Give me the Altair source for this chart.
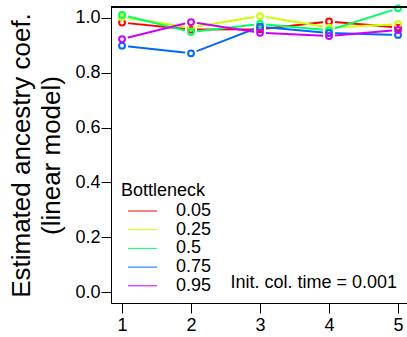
import altair as alt
import pandas as pd

# Sampling points and bottleneck strengths
days = [1, 2, 3, 4, 5]
bottleneck_levels = ["0.05", "0.25", "0.5", "0.75", "0.95"]

# Estimated ancestry coefficient per bottleneck level
coef_005 = [0.983, 0.958, 0.959, 0.987, 0.965]
coef_025 = [1.003, 0.965, 1.007, 0.965, 0.977]
coef_050 = [1.011, 0.949, 0.978, 0.955, 1.035]
coef_075 = [0.899, 0.871, 0.968, 0.945, 0.938]
coef_095 = [0.923, 0.985, 0.946, 0.934, 0.956]

palette = ["#FF0000", "#CCFF00", "#00FF66", "#0066FF", "#CC00FF"]
y_ticks = [0.0, 0.2, 0.4, 0.6, 0.8, 1.0]

rows = []
for level, series in zip(bottleneck_levels,
                         [coef_005, coef_025, coef_050, coef_075, coef_095]):
    for d, v in zip(days, series):
        rows.append({"day": d, "coef": v, "bottleneck": level})
df = pd.DataFrame(rows)

FONT = "Liberation Sans"
W, H = 296, 296

x_enc = alt.X(
    "day:Q",
    scale=alt.Scale(domain=[0.84, 5.13], nice=False, zero=False),
    axis=alt.Axis(values=days, format="d", title=None, grid=False,
                  labelFontSize=18, labelPadding=3, tickSize=10,
                  domainColor="black", tickColor="black", labelColor="black",
                  labelFont=FONT),
)
y_enc = alt.Y(
    "coef:Q",
    scale=alt.Scale(domain=[-0.04, 1.04], nice=False, zero=False),
    axis=alt.Axis(values=y_ticks, format=".1f",
                  title=["Estimated ancestry coef.", "(linear model)"],
                  titleFontSize=26, titleFontWeight="normal", titleFont=FONT,
                  titleColor="black", titleLineHeight=30, titlePadding=10,
                  grid=False, labelFontSize=18, labelPadding=1, tickSize=10,
                  domainColor="black", tickColor="black", labelColor="black",
                  labelFont=FONT),
)

base = alt.Chart(df)

# Legend key: a short horizontal stroke drawn right of the symbol centre
key_path = "M-0.4,0H5.4"

lines = base.mark_line(strokeWidth=2).encode(
    x=x_enc,
    y=y_enc,
    color=alt.Color(
        "bottleneck:N",
        scale=alt.Scale(domain=bottleneck_levels, range=palette),
        legend=alt.Legend(
            title="Bottleneck", orient="none", legendX=10, legendY=175,
            symbolType=key_path, symbolSize=100, symbolStrokeWidth=1,
            titleFontSize=18, titleFontWeight="normal", titleFont=FONT,
            titleColor="black", labelFontSize=18, labelFont=FONT,
            labelColor="black", labelOffset=37, rowPadding=0.7,
            titlePadding=2,
        ),
    ),
    detail="bottleneck:N",
)

# White discs open a gap in the lines around each point
gaps = base.mark_point(filled=True, shape="circle", size=150,
                       color="white", opacity=1).encode(x="day:Q", y="coef:Q")

points = base.mark_point(filled=False, shape="circle", size=34,
                         strokeWidth=2, opacity=1).encode(
    x="day:Q",
    y="coef:Q",
    stroke=alt.Stroke("bottleneck:N",
                      scale=alt.Scale(domain=bottleneck_levels, range=palette),
                      legend=None),
)

top_frame = alt.Chart(df).mark_rule(color="black", strokeWidth=1).encode(
    x=alt.value(0), x2=alt.value(W), y=alt.value(0)
)

note = alt.Chart(pd.DataFrame({"t": ["Init. col. time = 0.001"]})).mark_text(
    align="right", baseline="middle", fontSize=18, font=FONT, color="black"
).encode(text="t:N", x=alt.value(286), y=alt.value(276))

chart = alt.layer(lines, gaps, points, top_frame, note).properties(
    width=W, height=H,
    autosize=alt.AutoSizeParams(type="none"),
    padding={"left": 111, "top": 7, "right": 0, "bottom": 34},
).configure_view(stroke=None).configure(background="white")

chart.save("out.html", embed_options={"renderer": "svg", "actions": False})
